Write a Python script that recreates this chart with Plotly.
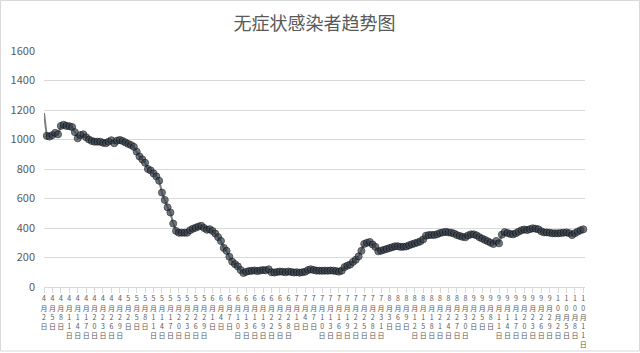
import pandas as pd
import plotly.graph_objects as go

start_date = "2022-04-02"
values = [
    1180, 1025, 1020, 1030, 1045, 1035, 1092, 1100, 1092, 1090,
    1085, 1050, 1008, 1030, 1035, 1015, 1000, 990, 985, 985,
    985, 978, 975, 985, 995, 975, 992, 997, 990, 980,
    970, 962, 950, 917, 885, 865, 842, 800, 790, 770,
    750, 720, 640, 590, 540, 505, 430, 380, 368, 368,
    368, 368, 385, 395, 402, 410, 415, 400, 388, 392,
    380, 362, 338, 312, 265, 245, 205, 172, 155, 140,
    115, 95, 103, 108, 110, 112, 108, 112, 115, 113,
    120, 100, 98, 102, 105, 103, 100, 105, 102, 98,
    100, 97, 100, 104, 115, 120, 115, 111, 111, 110,
    111, 110, 112, 111, 108, 104, 111, 135, 145, 152,
    170, 185, 208, 245, 292, 300, 305, 288, 272, 242,
    246, 252, 258, 264, 270, 276, 276, 272, 273, 275,
    283, 290, 296, 302, 310, 323, 348, 352, 353, 353,
    358, 366, 370, 374, 370, 368, 362, 352, 346, 340,
    337, 350, 357, 357, 350, 338, 328, 319, 310, 300,
    292, 312, 296, 355, 372, 366, 360, 357, 365, 375,
    385, 390, 386, 392, 398, 395, 391, 378, 370, 370,
    368, 364, 364, 364, 366, 368, 370, 365, 352, 365,
    375, 385, 391,
]
y_ticks = [0, 200, 400, 600, 800, 1000, 1200, 1400, 1600]
title_text = "无症状感染者趋势图"

dates = pd.date_range(start_date, periods=len(values), freq="D")
categories = [f"{d.month}月{d.day}日" for d in dates]

def stacked(d):
    parts = list(str(d.month)) + ["月"] + list(str(d.day)) + ["日"]
    return "<br>".join(parts)

tick_vals = categories[::3]
tick_text = [stacked(d) for d in dates[::3]]

W, H = 640, 353
L, R, T, B = 44, 55, 51, 66
pw, ph = W - L - R, H - T - B

gray = "#595959"
grid = "#d9d9d9"
cjk = "Noto Sans CJK SC"

sizes = [0] + [7] * (len(values) - 1)

fig = go.Figure()
fig.add_trace(go.Scatter(
    x=categories, y=values, mode="lines+markers",
    line=dict(color="#7f7f7f", width=2),
    marker=dict(size=sizes, color="#36414f", line=dict(color="#111111", width=1)),
    cliponaxis=False, showlegend=False,
))

fig.update_layout(
    width=W, height=H,
    margin=dict(l=L, r=R, t=T, b=B, autoexpand=False),
    paper_bgcolor="white", plot_bgcolor="white",
    title=dict(text=title_text, x=0.5, xanchor="center", xref="paper",
               y=1 - 24 / H, yanchor="middle", yref="container",
               font=dict(family=cjk, size=18, color=gray)),
    font=dict(family=cjk, color=gray),
    xaxis=dict(type="category", range=[0, len(values) - 1 + 0.6],
               tickmode="array", tickvals=tick_vals, ticktext=tick_text,
               tickangle=0, tickfont=dict(family=cjk, size=7, color=gray),
               showgrid=False, showline=True, linecolor=grid, linewidth=1,
               ticks="outside", ticklen=5, tickcolor=grid, automargin=False),
    yaxis=dict(range=[0, 1600], tickvals=y_ticks, showgrid=True, gridcolor=grid,
               gridwidth=1, zeroline=False, showline=False,
               tickfont=dict(family=cjk, size=11, color=gray),
               ticks="", ticklabelstandoff=8, automargin=False),
    shapes=[dict(type="rect", xref="paper", yref="paper",
                 x0=(0.5 - L) / pw, x1=(W - 0.5 - L) / pw,
                 y0=-(351 - (T + ph)) / ph, y1=(T + ph - 0.5) / ph,
                 line=dict(color=grid, width=1), fillcolor="rgba(0,0,0,0)",
                 layer="below")],
)

fig.write_html("out.html")
